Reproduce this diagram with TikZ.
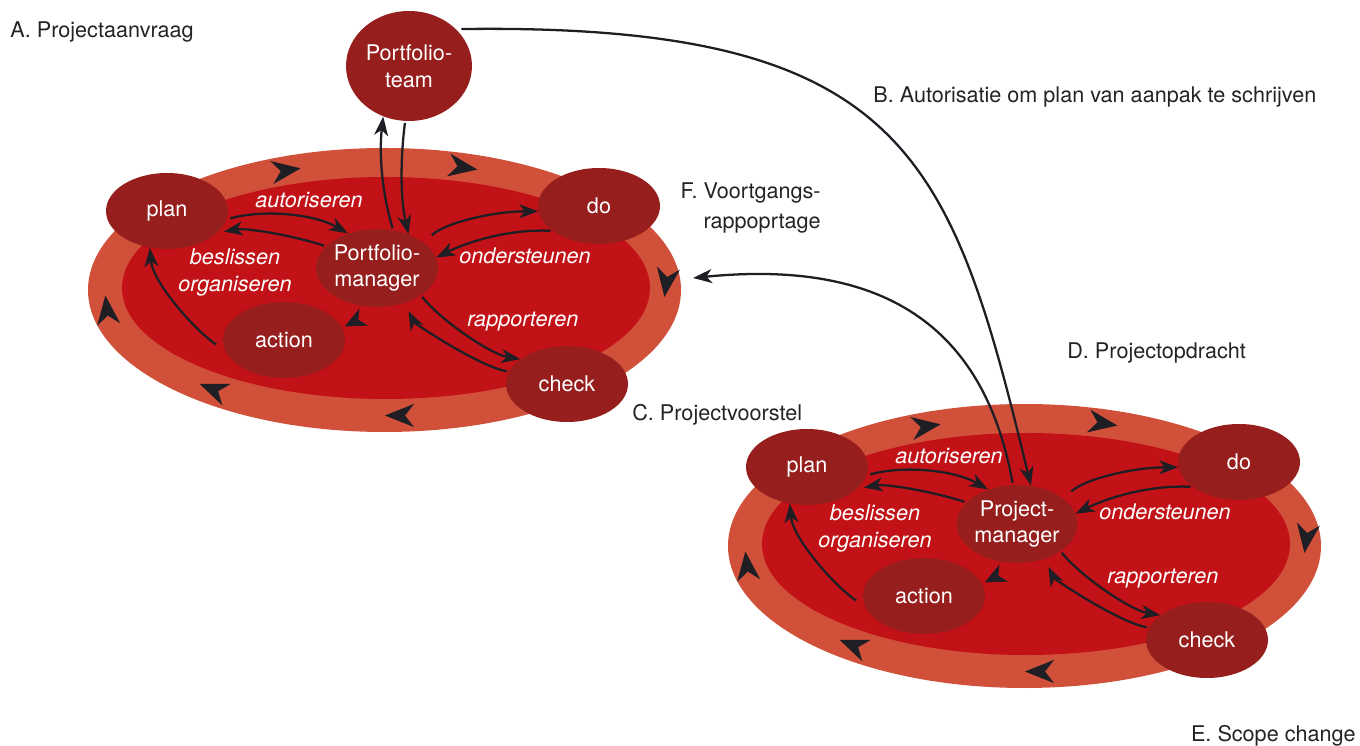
\documentclass[tikz,border=0pt]{standalone}
\usepackage{fontspec}
\setmainfont{TeX Gyre Heros}
\usetikzlibrary{arrows.meta,positioning,shapes.geometric,decorations.markings}
\definecolor{ringout}{RGB}{208,80,58}
\definecolor{ringin}{RGB}{195,18,23}
\definecolor{stepred}{RGB}{150,31,30}
\definecolor{inkc}{RGB}{30,30,36}
\definecolor{labelc}{RGB}{35,35,40}

\begin{document}
\begin{tikzpicture}[
      x=0.02cm,y=-0.02cm,
      font=\fontsize{12.3pt}{15.3pt}\selectfont,
      phase/.style={
         ellipse,
         fill=stepred,
         text=white,
         inner sep=0pt,
         align=center,
         minimum width=2.44cm,
         minimum height=1.52cm},
      role/.style={phase,minimum width=2.4cm,minimum height=1.56cm},
      flow/.style={draw=inkc,line width=1.3pt,shorten <=1pt,
         -{Stealth[length=0.38cm,width=0.28cm,inset=0.11cm]}},
      bigtip/.tip={Stealth[length=0.58cm,width=0.46cm,inset=0.18cm]},
      ringtips/.style={decorate,decoration={markings,
         mark=at position 0.006 with {\arrow[inkc]{bigtip}},
         mark=at position 0.25 with {\arrow[inkc]{bigtip}},
         mark=at position 0.393 with {\arrow[inkc]{bigtip}},
         mark=at position 0.495 with {\arrow[inkc]{bigtip}},
         mark=at position 0.686 with {\arrow[inkc]{bigtip}},
         mark=at position 0.82 with {\arrow[inkc]{bigtip}}}},
      lonetip/.style={decorate,decoration={markings,
         mark=at position -0.06cm with {\arrow[inkc]{Stealth[length=0.42cm,width=0.38cm,inset=0.12cm]}}}},
      verb/.style={text=white,inner sep=0pt,align=center,
         font=\fontsize{12.3pt}{15.3pt}\selectfont\itshape},
      caption/.style={text=labelc,inner sep=0pt,anchor=base west}
      ]
    \useasboundingbox (0,0) rectangle (1360,746);

    % two PDCA cycles, the second one shifted down and right
    \foreach \k/\dx/\dy/\who in {L/0/0/Portfolio-,R/640/256/Project-}{
      \begin{scope}[shift={(\dx,\dy)}]
        \fill[ringout] (384.5,290) ellipse [x radius=296.5, y radius=142];
        \fill[ringin] (386,288) ellipse [x radius=264, y radius=111];
        \path[ringtips] (385,289) ellipse [x radius=280, y radius=126.5];

        \node[phase] (\k-plan) at (167,211) {plan};
        \node[phase] (\k-do) at (599,206) {do};
        \node[phase] (\k-check) at (567,384) {check};
        \node[phase] (\k-action) at (284,340) {action};
        \node[role] (\k-mgr) at (377,268) {\who\\manager};

        \foreach \a/\b/\c/\d/\s/\e in {% from/to/first control/second control/shorten start/shorten end
          plan.-8/mgr.130/{35,-10}/{-35,-20}/2/0,
          mgr.157/plan.-23/{-30,-10}/{30,-5}/1/3.5,
          mgr.28/do.185/{20,-20}/{-45,0}/6/0,
          do.208/mgr.10/{-45,-2}/{30,-15}/1/0,
          mgr.-32/check.152/{20,25}/{-30,-5}/1/0,
          check.168/mgr.-52/{-30,-5}/{10,20}/1/5,
          action.190/plan.-115/{-30,-20}/{3,35}/6/0}
          \draw[flow,shorten <=\s pt,shorten >=\e pt] (\k-\a) .. controls +(\c) and +(\d) .. (\k-\b);
        \path[lonetip] (\k-mgr.-80) -- (\k-action.12);

        \node[verb,anchor=base west] (\k-aut) at (255,208) {autoriseren};
        \node[verb] (\k-bes) at (235,272.5) {beslissen\\organiseren};
        \node[verb,anchor=base west] (\k-ond) at (459,264) {ondersteunen};
        \node[verb,anchor=base west] (\k-rap) at (467,327) {rapporteren};
      \end{scope}
    }

    \node[role,minimum width=2.52cm,minimum height=2.2cm] (team) at (409,66) {Portfolio-\\team};
    \draw[flow] (L-mgr.67) .. controls +(-12,-40) and +(-4,35) .. (team.243);
    \draw[flow] (team.266) .. controls +(-5,40) and +(-8,-35) .. (L-mgr.47);

    \coordinate (voortgang) at (693,278);
    \draw[flow,shorten <=3pt] (team.38) .. controls +(450,-6) and +(-80,-330) .. (R-mgr.70);
    \draw[flow] (R-mgr.96) .. controls +(-27,-150) and +(200,-20) .. (voortgang);

    \node[caption] (lblA) at (10,38) {A. Projectaanvraag};
    \node[caption] (lblB) at (873,103) {B. Autorisatie om plan van aanpak te schrijven};
    \node[caption] (lblC) at (632,421) {C. Projectvoorstel};
    \node[caption] (lblD) at (1067,359) {D. Projectopdracht};
    \node[caption,anchor=base east] (lblE) at (1356,741) {E. Scope change};
    \node[text=labelc,inner sep=0pt,align=right,anchor=north east,
      font=\fontsize{12.3pt}{17pt}\selectfont] (lblF) at (821,182.5) {F. Voortgangs-\\rappoprtage};
\end{tikzpicture}
\end{document}
